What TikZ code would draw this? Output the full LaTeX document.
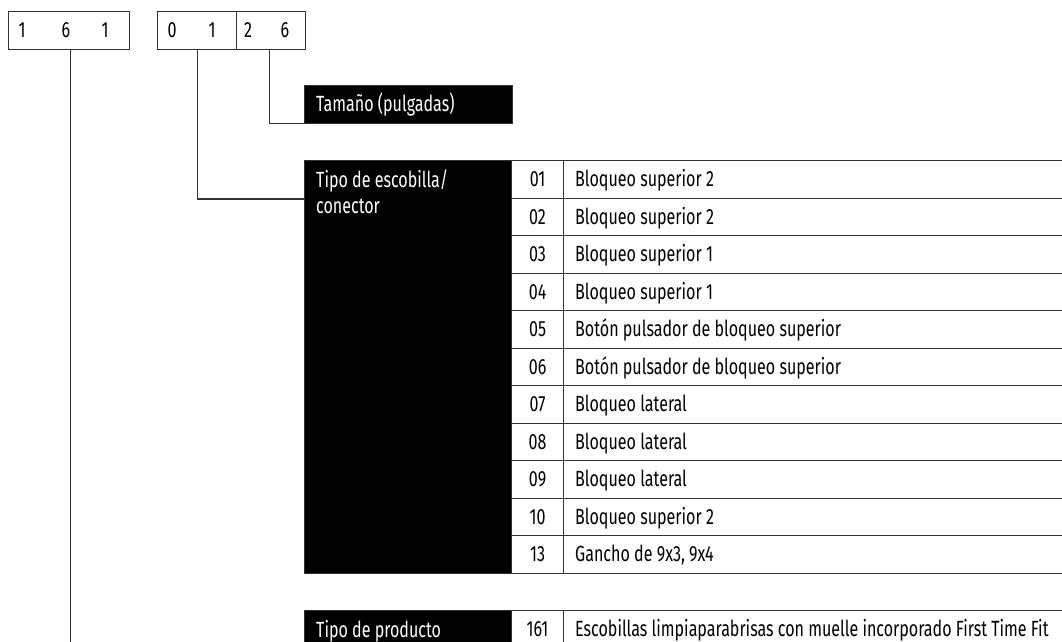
\documentclass[tikz,border=0pt]{standalone}
\usepackage{fontspec}
\setmainfont{Fira Sans}[FakeStretch=0.73]
\begin{document}
\begin{tikzpicture}[x=1pt,y=-1pt,
  font=\fontsize{22}{26}\selectfont,
  ln/.style={draw=black!80, line width=1.1pt},
  codebox/.style={ln, anchor=north west, inner sep=0pt, minimum height=38},
  digit/.style={inner sep=0pt, anchor=base},
  blackbox/.style={fill=black, draw=black!80, line width=0.8pt, anchor=north west, inner sep=0pt},
  btxt/.style={text=white, anchor=base west, inner sep=0pt},
  numcell/.style={ln, anchor=north west, inner sep=0pt, minimum width=52, minimum height=37.5},
  desccell/.style={ln, anchor=north west, inner sep=0pt, minimum width=500, minimum height=37.5},
  ctxt/.style={inner sep=0pt, anchor=base},
  dtxt/.style={inner sep=0pt, anchor=base west}
]
\useasboundingbox (0,0) rectangle (1062,642);

% code boxes
\node[codebox, minimum width=121] (c1) at (8,11) {};
\node[codebox, minimum width=79] (c2a) at (157,11) {};
\node[codebox, minimum width=69] (c2b) at (236,11) {};
\node[digit] (d1) at (22,37.5) {1};
\node[digit] (d2) at (66,37.5) {6};
\node[digit] (d3) at (105,37.5) {1};
\node[digit] (d4) at (172,37.5) {0};
\node[digit] (d5) at (212,37.5) {1};
\node[digit] (d6) at (248,37.5) {2};
\node[digit] (d7) at (285,37.5) {6};

% label boxes
\node[blackbox, minimum width=208, minimum height=38] (tam) at (304,85) {};
\node[btxt] (tamt) at (316,111) {Tamaño (pulgadas)};

\node[blackbox, minimum width=207, minimum height=413] (esc) at (304,160) {};
\node[btxt] (esct1) at (316,187) {Tipo de escobilla/};
\node[btxt] (esct2) at (316,213) {conector};

\node[blackbox, minimum width=207, minimum height=40] (prod) at (304,610) {};
\node[btxt] (prodt) at (316,637) {Tipo de producto};

% table rows
\foreach \i/\n/\t in {1/01/Bloqueo superior 2,
                      2/02/Bloqueo superior 2,
                      3/03/Bloqueo superior 1,
                      4/04/Bloqueo superior 1,
                      5/05/Botón pulsador de bloqueo superior,
                      6/06/Botón pulsador de bloqueo superior,
                      7/07/Bloqueo lateral,
                      8/08/Bloqueo lateral,
                      9/09/Bloqueo lateral,
                      10/10/Bloqueo superior 2,
                      11/13/{Gancho de 9x3, 9x4}}{
  \pgfmathsetmacro{\yy}{160+(\i-1)*37.5}
  \node[numcell] (num\i) at (511,\yy) {};
  \node[desccell] (desc\i) at (563,\yy) {};
  \node[ctxt] (numt\i) at ([yshift=-7.5pt]num\i.center) {\n};
  \node[dtxt] (desct\i) at ([xshift=12pt,yshift=-7.5pt]desc\i.west) {\t};
}
\node[numcell] (num12) at (511,610) {};
\node[desccell] (desc12) at (563,610) {};
\node[ctxt] (numt12) at ([yshift=-7.5pt]num12.center) {161};
\node[dtxt] (desct12) at ([xshift=12pt,yshift=-7.5pt]desc12.west) {Escobillas limpiaparabrisas con muelle incorporado First Time Fit};

% connectors
\coordinate (bottom) at (70,650);
\coordinate (escin) at (304,199);
\draw[ln] ([xshift=1.5pt]c1.south) -- ([xshift=1.5pt]c1.south |- bottom);
\draw[ln] (c2a.south) |- (escin);
\draw[ln] ([xshift=-1.5pt]c2b.south) |- (tam.south west);
\end{tikzpicture}
\end{document}
